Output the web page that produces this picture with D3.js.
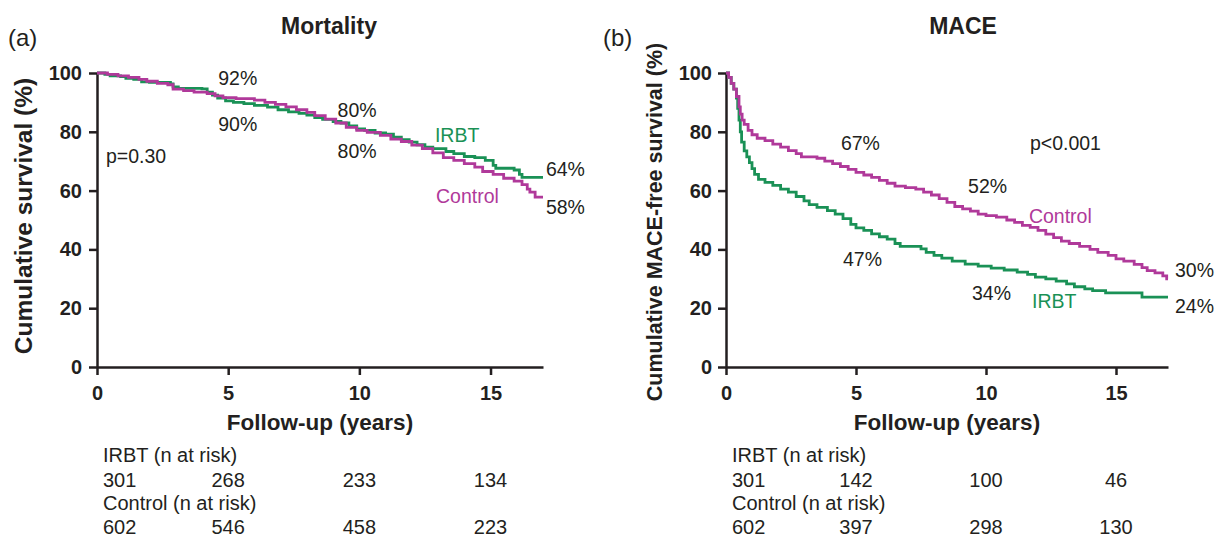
<!DOCTYPE html>
<html>
<head>
<meta charset="utf-8">
<script src="https://cdn.jsdelivr.net/npm/d3@7"></script>
<style>
  body { margin: 0; background: #fff; }
  svg { font-family: "Liberation Sans", Arial, sans-serif; }
  .axis path, .axis line { stroke: #231f20; stroke-width: 2.5; }
  .axis text { font-size: 20px; font-weight: bold; fill: #231f20; }
  .note { font-size: 19.5px; fill: #231f20; }
</style>
</head>
<body>
<div id="root"></div>
<script>
// ticks
var xTicks = [0, 5, 10, 15];
var yTicks = [0, 20, 40, 60, 80, 100];

// Kaplan-Meier steps [years, survival %]
var mortIRBT = [[0,100],[0.3,99.5],[0.5,99],[0.9,98.8],[1.1,98.2],[1.4,97.8],[1.7,97],[2.0,96.8],[2.8,96.3],[2.9,95.3],[3.1,94.8],[4.0,94.6],[4.2,93.5],[4.4,92.5],[4.6,91.5],[4.9,90.5],[5.2,90],[5.6,89.6],[6.0,89],[6.5,88.4],[6.9,87.5],[7.3,86.8],[7.7,86.3],[8.0,85.7],[8.3,84.8],[8.6,84.2],[9.0,83.5],[9.3,83],[9.6,82],[9.9,81],[10.2,80.5],[10.6,79.6],[11.0,79.2],[11.3,78.2],[11.6,77.3],[11.9,76.5],[12.2,75.6],[12.5,74.8],[12.8,74.3],[13.3,73.3],[13.6,72.6],[14.0,71.6],[14.4,71.2],[14.8,70.3],[15.1,68.6],[15.2,67.6],[15.9,67],[16.1,65.5],[16.2,64.5],[17,64.5]];
var mortControl = [[0,100],[0.4,99.5],[0.8,99],[1.2,98.5],[1.6,97.8],[1.9,97.2],[2.3,96.5],[2.7,96],[2.9,94.5],[3.3,94],[3.7,93.5],[4.2,93],[4.5,92.2],[4.8,91.6],[5.3,91.3],[6.0,90.8],[6.4,90],[6.8,89.3],[7.2,88.5],[7.6,87.5],[8.0,86.6],[8.3,85.5],[8.7,84.3],[9.1,83],[9.5,81.5],[9.9,80.5],[10.3,79.8],[10.8,78.8],[11.2,77.5],[11.6,76.7],[12.0,75.5],[12.4,74.3],[12.8,72.8],[13.2,71.2],[13.6,70.3],[14.0,69.2],[14.4,68],[14.7,66.5],[15.1,65.5],[15.5,64.2],[15.9,63.2],[16.2,62],[16.4,60.5],[16.5,59.5],[16.7,57.8],[17,57.8]];
var maceIRBT = [[0,100],[0.1,98.5],[0.2,96.5],[0.3,94.5],[0.4,91.5],[0.45,88],[0.5,84],[0.55,80],[0.6,76.5],[0.7,73.5],[0.8,71.5],[0.9,69.5],[1.0,67.5],[1.1,65.5],[1.25,63.8],[1.5,62.8],[1.8,61.8],[2.1,60.5],[2.4,59.5],[2.7,58],[3.0,56.5],[3.2,55.2],[3.5,54.3],[3.9,53.2],[4.2,52],[4.5,50.5],[4.8,48.5],[5.0,47.3],[5.3,46.5],[5.6,45.3],[5.9,44.3],[6.2,43.5],[6.5,42],[6.7,41],[7.5,40.2],[7.7,39],[8.0,38],[8.3,37],[8.7,36],[9.2,35],[9.7,34.3],[10.2,33.6],[10.7,33],[11.2,32.3],[11.6,31.5],[11.9,30.6],[12.3,30],[12.7,29.2],[13.1,28.3],[13.4,27.3],[13.8,26.6],[14.1,26],[14.6,25.2],[16.0,23.8],[17,23.8]];
var maceControl = [[0,100],[0.1,98.5],[0.2,96.5],[0.3,94.5],[0.4,92],[0.5,88.5],[0.55,86],[0.62,84],[0.7,82.5],[0.85,80.5],[1.0,79],[1.2,77.8],[1.5,77],[1.8,75.8],[2.1,74.8],[2.4,73.6],[2.7,72.6],[2.9,71.5],[3.5,71],[3.8,70],[4.1,69.2],[4.4,68.2],[4.7,67.2],[5.0,66.2],[5.3,65.3],[5.6,64.5],[5.9,63.5],[6.2,62.5],[6.5,61.5],[6.9,61],[7.3,60.5],[7.6,59.5],[7.9,58.5],[8.2,57.3],[8.5,56],[8.8,54.6],[9.1,53.8],[9.4,53],[9.7,52],[10.0,51.5],[10.4,51],[10.8,50],[11.1,49.2],[11.4,48.2],[11.7,47.5],[12.0,46.5],[12.3,45.2],[12.6,44],[12.9,42.8],[13.2,42],[13.6,41],[14.0,40],[14.3,39],[14.7,38],[15.0,36.8],[15.3,36],[15.7,34.9],[16.0,33.8],[16.2,32.8],[16.5,32],[16.8,31],[16.95,30],[17,30]];

// numbers at risk at 0, 5, 10, 15 years
var riskMortIRBT = [301, 268, 233, 134];
var riskMortControl = [602, 546, 458, 223];
var riskMaceIRBT = [301, 142, 100, 46];
var riskMaceControl = [602, 397, 298, 130];

var green = "#1a9156", magenta = "#b0399a", ink = "#231f20";

var svg = d3.select("#root")
  .append("svg")
  .attr("width", 1226)
  .attr("height", 538);

function panel(opt) {
  var g = svg.append("g")
    .attr("transform", "translate(" + opt.left + "," + opt.top + ")");

  var x = d3.scaleLinear().domain([0, 17]).range([0, opt.width]);
  var y = d3.scaleLinear().domain([0, 100]).range([opt.height, 0]);

  g.append("g")
    .attr("class", "axis")
    .attr("transform", "translate(0," + opt.height + ")")
    .call(d3.axisBottom(x).tickValues(xTicks).tickSize(8).tickSizeOuter(0).tickPadding(11));
  g.append("g")
    .attr("class", "axis")
    .call(d3.axisLeft(y).tickValues(yTicks).tickSize(8).tickSizeOuter(0).tickPadding(opt.yPad));

  var line = d3.line()
    .x(function (d) { return x(d[0]); })
    .y(function (d) { return y(d[1]); })
    .curve(d3.curveStepAfter);

  // IRBT first, control on top
  [[opt.irbt, green], [opt.control, magenta]].forEach(function (s) {
    g.append("path")
      .datum(s[0])
      .attr("d", line)
      .attr("fill", "none")
      .attr("stroke", s[1])
      .attr("stroke-width", 2.8);
  });

  // labels on the plot
  opt.notes.forEach(function (n) {
    g.append("text")
      .attr("class", "note")
      .attr("x", x(n[1]))
      .attr("y", y(n[2]))
      .style("fill", n[3] || ink)
      .text(n[0]);
  });

  // titles
  svg.append("text")
    .attr("x", opt.titleX).attr("y", 34)
    .attr("text-anchor", "middle")
    .style("font-size", "23px").style("font-weight", "bold").style("fill", ink)
    .text(opt.title);
  svg.append("text")
    .attr("x", opt.tagX).attr("y", 46)
    .style("font-size", "24px").style("fill", ink)
    .text(opt.tag);

  g.append("text")
    .attr("x", opt.width / 2)
    .attr("y", opt.height + 63)
    .attr("text-anchor", "middle")
    .style("font-size", "22.5px").style("font-weight", "bold").style("fill", ink)
    .text("Follow-up (years)");

  g.append("text")
    .attr("transform", "translate(" + opt.yLabelX + "," + (opt.yLabelY - opt.top) + ") rotate(-90)")
    .attr("text-anchor", "middle")
    .style("font-size", opt.yLabelSize).style("font-weight", "bold").style("fill", ink)
    .text(opt.yLabel);

  // numbers at risk
  var rows = [
    ["IRBT (n at risk)", null],
    [null, opt.riskIRBT],
    ["Control (n at risk)", null],
    [null, opt.riskControl]
  ];
  var base = [462, 487, 510, 534];
  rows.forEach(function (r, i) {
    var yy = base[i] - opt.top;
    if (r[0]) {
      g.append("text").attr("class", "note")
        .attr("x", x(0) + 6).attr("y", yy)
        .style("font-size", "20px")
        .text(r[0]);
    } else {
      r[1].forEach(function (v, j) {
        g.append("text").attr("class", "note")
          .attr("x", j === 0 ? x(0) + 6 : x(xTicks[j]))
          .attr("y", yy)
          .attr("text-anchor", j === 0 ? "start" : "middle")
          .style("font-size", "20px")
          .text(v);
      });
    }
  });
}

panel({
  left: 97, top: 73, width: 446, height: 294, yPad: 7,
  irbt: mortIRBT, control: mortControl,
  riskIRBT: riskMortIRBT, riskControl: riskMortControl,
  title: "Mortality", titleX: 329, tag: "(a)", tagX: 8,
  yLabel: "Cumulative survival (%)", yLabelX: -65, yLabelY: 216, yLabelSize: "24.5px",
  notes: [
    ["92%", 4.62, 95.9],
    ["90%", 4.62, 80.3],
    ["80%", 9.17, 85.0],
    ["80%", 9.17, 71.1],
    ["IRBT", 12.88, 76.5, green],
    ["Control", 12.92, 55.8, magenta],
    ["64%", 17.11, 65.0],
    ["58%", 17.11, 52.0],
    ["p=0.30", 0.34, 69.4]
  ]
});

panel({
  left: 726, top: 73, width: 442, height: 294, yPad: 6,
  irbt: maceIRBT, control: maceControl,
  riskIRBT: riskMaceIRBT, riskControl: riskMaceControl,
  title: "MACE", titleX: 963, tag: "(b)", tagX: 603,
  yLabel: "Cumulative MACE-free survival (%)", yLabelX: -64, yLabelY: 222, yLabelSize: "21.5px",
  notes: [
    ["67%", 4.42, 73.8],
    ["p<0.001", 11.69, 73.8],
    ["52%", 9.31, 59.2],
    ["Control", 11.65, 49.0, magenta],
    ["47%", 4.5, 34.4],
    ["34%", 9.46, 22.8],
    ["IRBT", 11.77, 20.1, green],
    ["30%", 17.27, 30.6],
    ["24%", 17.27, 18.4]
  ]
});
</script>
</body>
</html>
